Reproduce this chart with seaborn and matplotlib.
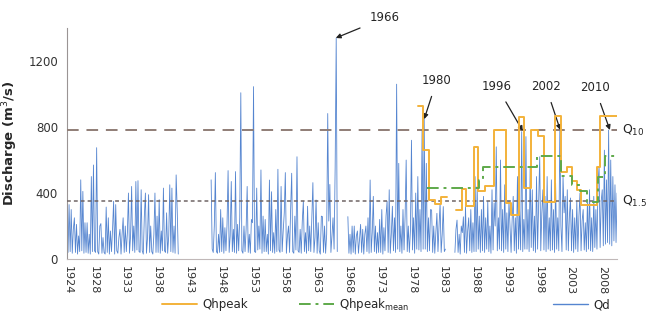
import numpy as np
import pandas as pd
import matplotlib
matplotlib.use("Agg")
import matplotlib.pyplot as plt
from matplotlib.lines import Line2D
import seaborn as sns

# daily discharge Qd at 2-month steps (6 values / year)
qd1_start = 1924.0
qd1 = [40, 330, 45, 300, 35, 180,
       250, 40, 210, 30, 140, 45,
       480, 50, 410, 35, 220, 40,
       220, 35, 150, 30, 500, 45,
       570, 50, 40, 675, 45, 30,
       200, 215, 35, 130, 40, 30,
       315, 40, 250, 30, 170, 45,
       180, 350, 30, 330, 50, 35,
       130, 180, 30, 150, 250, 40,
       200, 45, 160, 400, 35, 140,
       440, 50, 200, 40, 470, 55,
       475, 45, 40, 420, 50, 30,
       260, 400, 35, 130, 390, 40,
       200, 45, 30, 150, 400, 40,
       260, 40, 360, 35, 170, 50,
       430, 50, 40, 280, 35, 140,
       450, 45, 430, 40, 200, 35,
       510, 300, 30]

qd2_start = 1946.5
qd2 = [480, 60, 40,
       200, 524, 45, 35, 150, 40,
       300, 45, 250, 35, 190, 50,
       210, 536, 40, 140, 470, 45,
       180, 40, 530, 35, 210, 50,
       250, 1008, 50, 35, 200, 45,
       180, 440, 40, 150, 35, 240,
       220, 1045, 45, 40, 430, 55,
       200, 60, 540, 35, 260, 45,
       240, 45, 150, 30, 479, 50,
       408, 40, 160, 35, 300, 45,
       544, 55, 40, 440, 45, 170,
       280, 524, 35, 140, 200, 40,
       300, 520, 45, 35, 260, 55,
       620, 50, 40, 180, 35, 230,
       350, 45, 160, 35, 320, 50,
       200, 45, 250, 463, 40, 130,
       358, 35, 220, 50, 30, 260,
       257, 40, 200, 35, 150, 882,
       230, 452, 40, 140, 250, 60,
       550, 1340, 45]

qd3_start = 1968.0
qd3 = [257, 35, 150, 30, 200, 40,
       200, 30, 140, 170, 35, 120,
       210, 40, 180, 30, 150, 200,
       45, 250, 35, 479, 40, 160,
       380, 45, 200, 35, 160, 40,
       240, 40, 300, 30, 190, 50,
       260, 350, 40, 420, 35, 150,
       320, 50, 250, 40, 1060, 60,
       580, 45, 200, 35, 300, 55,
       260, 600, 45, 200, 40, 170,
       720, 55, 250, 35, 400, 60,
       500, 55, 300, 45, 782, 60,
       853, 60, 580, 45, 250, 50,
       300, 297, 40, 200, 35, 160,
       277, 45, 200, 337, 40, 150,
       318, 45, 60]

qd4_start = 1984.83
qd4 = [40,
       180, 236, 40, 150, 30, 200,
       160, 256, 40, 318, 35, 170,
       250, 50, 300, 40, 220, 45,
       500, 45, 440, 60, 260, 40,
       300, 50, 380, 40, 250, 60,
       350, 45, 200, 35, 420, 55,
       340, 200, 680, 50, 250, 60,
       600, 50, 300, 40, 450, 60,
       280, 45, 350, 200, 40, 240,
       380, 50, 250, 35, 500, 60,
       300, 55, 772, 45, 240, 60,
       742, 60, 300, 45, 560, 70,
       420, 50, 260, 40, 500, 60,
       350, 620, 50, 280, 420, 55,
       380, 45, 500, 60, 250, 50,
       480, 55, 300, 40, 460, 60,
       250, 50, 810, 200, 45, 500,
       280, 380, 55, 420, 50, 260,
       370, 50, 300, 40, 250, 60,
       350, 45, 260, 400, 50, 230,
       300, 55, 220, 45, 350, 60,
       420, 50, 250, 45, 380, 70,
       300, 60, 460, 560, 70, 350,
       420, 80, 660, 90, 480, 100,
       782, 90, 600, 80, 500, 110,
       450, 100, 400, 90]

# Qhpeak steps (start year of each step, value)
peak_a_years = [1979.0, 1979.85, 1980.8, 1981.7, 1982.6, 1983.6]
peak_a_vals = [925, 660, 355, 335, 375, 375]
peak_b_years = [1985.0, 1986.0, 1986.6, 1987.8, 1988.5, 1989.6, 1990.9, 1992.8,
                1993.6, 1994.85, 1995.7, 1996.8, 1997.9, 1998.9, 2000.6, 2001.5,
                2002.5, 2003.3, 2004.0, 2004.7, 2007.1, 2007.6, 2010.3]
peak_b_vals = [300, 425, 320, 680, 410, 440, 782, 338, 267, 860, 428, 782,
               745, 345, 865, 530, 560, 470, 420, 325, 560, 865, 865]

# Qhpeak mean steps
mean_years = [1980.5, 1988.6, 1989.2, 1997.8, 2001.5, 2003.3, 2004.5, 2005.6,
              2007.4, 2008.4, 2010.3]
mean_vals = [430, 480, 558, 625, 505, 450, 410, 345, 500, 625, 625]

q10 = 780
q15 = 352

tick_years = [1924, 1928, 1933, 1938, 1943, 1948, 1953, 1958, 1963, 1968,
              1973, 1978, 1983, 1988, 1993, 1998, 2003, 2008]

# (label, arrow tip year, tip value, text year, text value)
events = [("1966", 1966.1, 1340, 1973.8, 1462),
          ("1980", 1980.0, 848, 1982.0, 1085),
          ("1996", 1995.5, 776, 1991.4, 1048),
          ("2002", 2001.4, 782, 1999.1, 1048),
          ("2010", 2009.2, 782, 2006.8, 1042)]

blue = "#5585d0"
orange = "#f3b23a"
green = "#5ea94a"

sns.set_style("white")
fig = plt.figure(figsize=(6.48, 3.19), dpi=100)
ax = fig.add_axes([0.1035, 0.188, 0.849, 0.724])


def seg_frame(start, values):
    return pd.DataFrame({"year": start + np.arange(len(values)) / 6.0,
                         "Qd": values})


for start, vals in [(qd1_start, qd1), (qd2_start, qd2),
                    (qd3_start, qd3), (qd4_start, qd4)]:
    sns.lineplot(data=seg_frame(start, vals), x="year", y="Qd", ax=ax,
                 color=blue, lw=0.6, estimator=None, zorder=2)

ax.axhline(q10, color="#8f7d76", lw=1.4, ls=(0, (6, 4)), zorder=3)
ax.axhline(q15, color="#6f6464", lw=1.1, ls=(0, (2.5, 2)), zorder=3)

for yrs, vals in [(peak_a_years, peak_a_vals), (peak_b_years, peak_b_vals)]:
    sns.lineplot(x=yrs, y=vals, ax=ax, color=orange, lw=1.4,
                 drawstyle="steps-post", estimator=None, zorder=4)
sns.lineplot(x=mean_years, y=mean_vals, ax=ax, color=green, lw=1.4,
             ls=(0, (6, 2.5, 1.5, 2.5)), drawstyle="steps-post",
             estimator=None, zorder=5)

for label, tx, tv, lx, lv in events:
    ax.annotate(label, xy=(tx, tv), xytext=(lx, lv), fontsize=8.5,
                ha="center", va="center", annotation_clip=False,
                arrowprops=dict(arrowstyle="-|>", color="#222222", lw=0.9,
                                mutation_scale=7, shrinkA=5, shrinkB=0))

ax.text(1.008, q10, "Q$_{10}$", transform=ax.get_yaxis_transform(),
        fontsize=9, va="center", ha="left", color="#222222")
ax.text(1.008, q15, "Q$_{1.5}$", transform=ax.get_yaxis_transform(),
        fontsize=9, va="center", ha="left", color="#222222")

ax.set_xlim(1923.85, 2010.35)
ax.set_ylim(0, 1400)
ax.set_yticks([0, 400, 800, 1200])
ax.set_xticks(tick_years)
ax.set_xticklabels([str(y) for y in tick_years], rotation=-90)
ax.set_xticks(np.arange(1924, 2011), minor=True)
ax.tick_params(axis="x", which="both", direction="out", length=2.5,
               color="#b8b0b0", labelsize=8, labelcolor="#333333", pad=2)
ax.tick_params(axis="x", which="major", length=3)
ax.tick_params(axis="y", direction="out", length=3, color="#9a9a9a",
               labelsize=8.5, labelcolor="#333333")
ax.set_xlabel("")
ax.set_ylabel("Discharge (m$^3$/s)", fontsize=9.5, fontweight="bold",
              labelpad=6)
sns.despine(ax=ax)
ax.spines["left"].set_color("#9a9494")
ax.spines["bottom"].set_color("#c0b8b8")

legend_items = [
    (Line2D([], [], color=orange, lw=1.4), "Qhpeak", 0.250),
    (Line2D([], [], color=green, lw=1.4, ls=(0, (6, 2.5, 1.5, 2.5))),
     "Qhpeak$_{\\mathrm{mean}}$", 0.461),
    (Line2D([], [], color=blue, lw=1.0), "Qd", 0.853),
]
for handle, label, xpos in legend_items:
    fig.legend([handle], [label], loc="center left",
               bbox_to_anchor=(xpos, 0.045), frameon=False, fontsize=8.5,
               handlelength=3.0, handletextpad=0.4, borderpad=0,
               borderaxespad=0)

fig.savefig("out.png", dpi=100)
